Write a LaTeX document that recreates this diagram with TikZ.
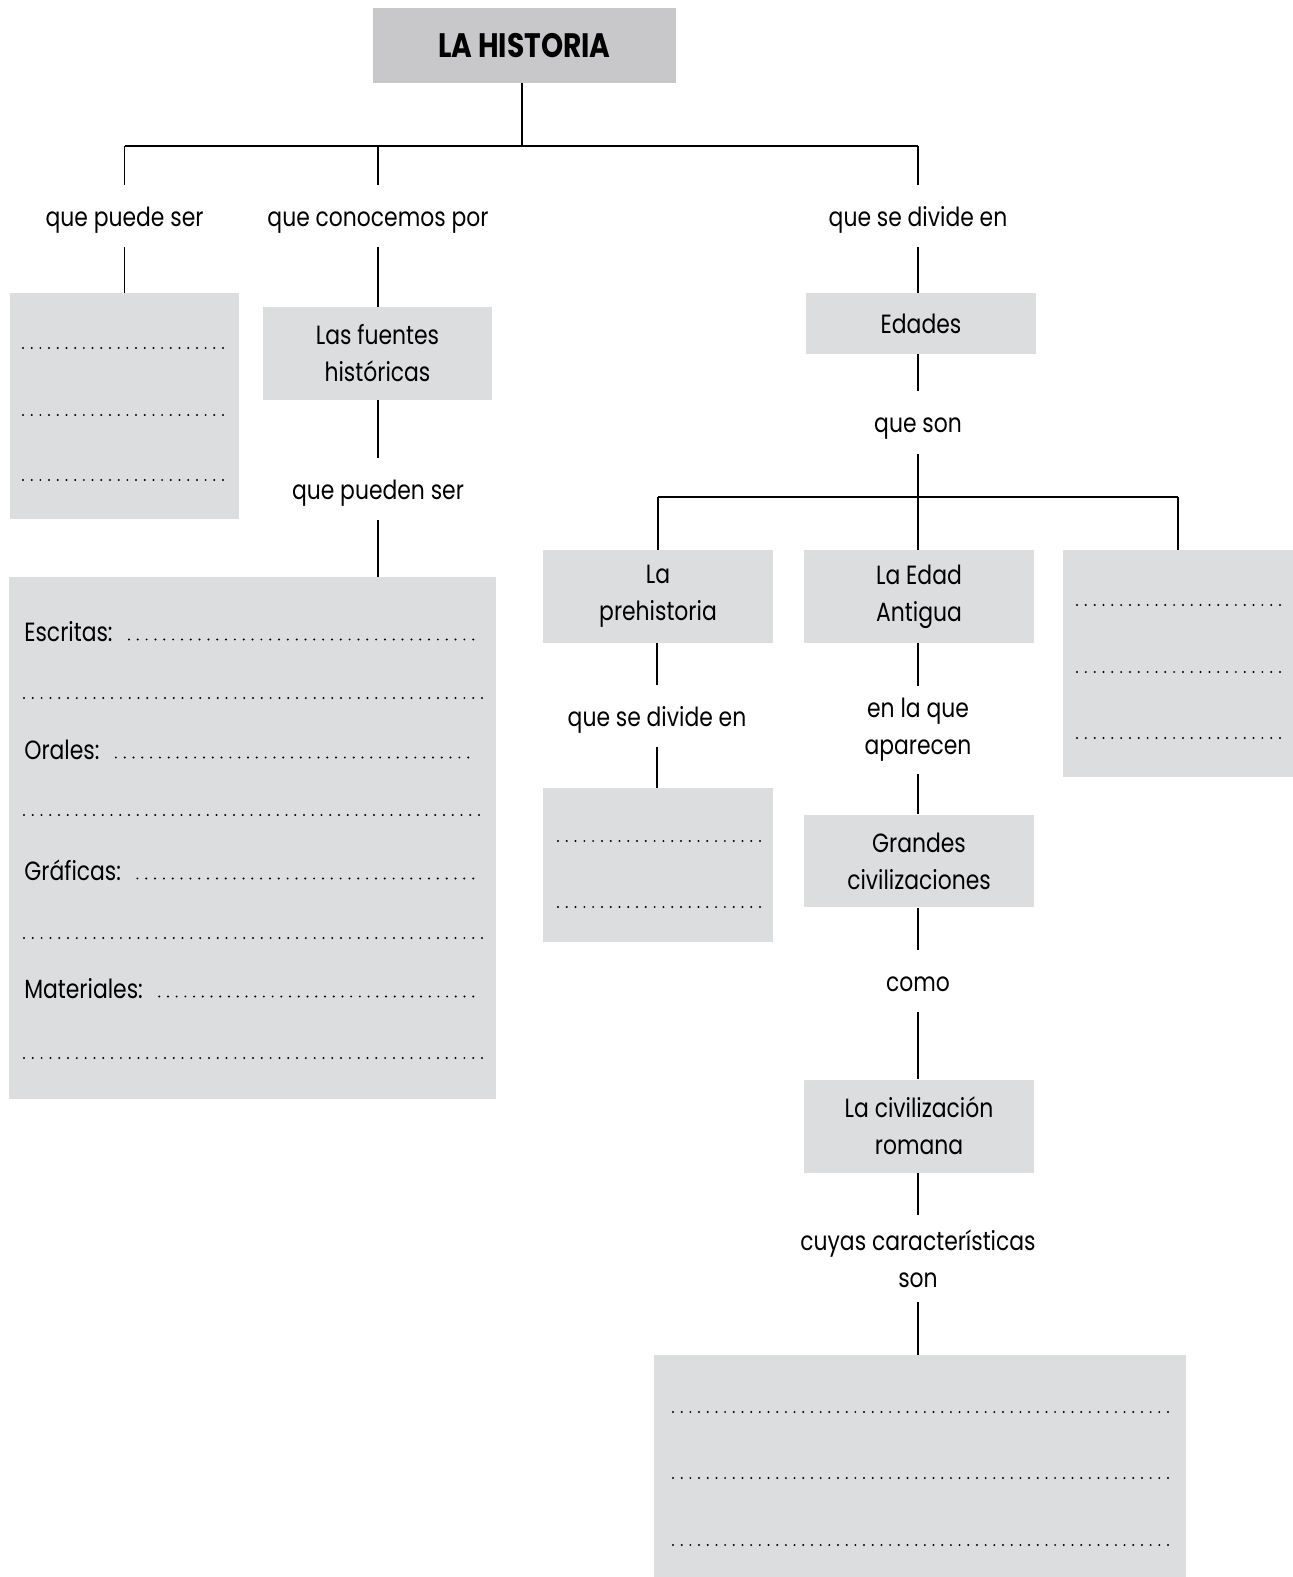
\documentclass[tikz,border=0pt]{standalone}
\usepackage{fontspec}
\setmainfont[FakeStretch=0.83]{Poppins}
\usetikzlibrary{positioning, decorations}
\definecolor{hgrey}{HTML}{C8C8CA}
\definecolor{hlight}{HTML}{DCDDDF}

\tikzset{
    box/.style={fill=hlight, inner sep=0pt, minimum width=4.6cm, minimum height=1.86cm, align=center},
    lbl/.style={inner sep=0pt, minimum height=1.24cm, text height=15.3pt, text depth=3.4pt},
    lbltwo/.style={inner sep=0pt, minimum height=1.76cm, align=center},
    link/.style={line width=0.75pt, black},
    dotline/.style={line width=1.25pt, line cap=round, dash pattern=on 0pt off 4.93pt, dash expand off},
}

\begin{document}
\begin{tikzpicture}[x=0.02cm, y=-0.02cm, every node/.style={font=\fontsize{15}{21}\selectfont}]
        \useasboundingbox (0,0) rectangle (1293,1577);

        % top
        \node[box, fill=hgrey, minimum width=6.06cm, minimum height=1.5cm, font=\fontsize{19.3}{21}\selectfont\bfseries] (historia) at (524.5,45.5) {LA HISTORIA};
        \coordinate (split) at (522,146);

        % first level
        \node[lbl] (puede) at (124.6,216) {que puede ser};
        \node[lbl] (conocemos) at (378,216) {que conocemos por};
        \node[lbl] (divide) at (918,216) {que se divide en};

        %% left branches
        \node[box, minimum width=4.58cm, minimum height=4.52cm] (tipos) at (124.5,406) {};
        \node[box, minimum width=4.58cm] (fuentes) at (377.5,353.5) {Las fuentes\\históricas};
        \node[lbl] (pueden) at (378,489) {que pueden ser};
        \node[box, minimum width=9.74cm, minimum height=10.44cm] (clases) at (252.5,838) {};

        %% right branch
        \node[box, minimum height=1.22cm] (edades) at (921,323.5) {Edades};
        \node[lbl] (son) at (918,422.5) {que son};
        \coordinate (split2) at (918,497);
        \node[box] (prehistoria) at (658,596.5) {La\\prehistoria};
        \node[box] (antigua) at (919,596.5) {La Edad\\Antigua};
        \node[box, minimum height=4.54cm] (otras) at (1178,663.5) {};
        \node[lbl] (divide2) at (657,716) {que se divide en};
        \node[box, minimum height=3.08cm] (etapas) at (658,865) {};
        \node[lbltwo] (aparecen) at (918,730) {en la que\\aparecen};
        \node[box] (grandes) at (919,861) {Grandes\\civilizaciones};
        \node[lbl] (como) at (918,981) {como};
        \node[box] (romana) at (919,1126) {La civilización\\romana};
        \node[lbltwo, minimum height=1.74cm] (caract) at (918,1258.5) {cuyas características\\son};
        \node[box, minimum width=10.64cm, minimum height=4.44cm] (rasgos) at (920,1466) {};

        % connectors
        \draw[link] (historia.south -| split) -- (split);
        \draw[link] (puede.north |- split) -- (divide.north |- split);
        \foreach \n in {puede, conocemos, divide}
        {
            \draw[link] (\n.north |- split) -- (\n.north);
        }
        \draw[link] (puede.south) -- (puede.south |- tipos.north);
        \draw[link] (conocemos.south) -- (conocemos.south |- fuentes.north);
        \draw[link] (divide.south) -- (divide.south |- edades.north);
        \draw[link] (fuentes.south -| pueden) -- (pueden.north);
        \draw[link] (pueden.south) -- (pueden.south |- clases.north);
        \draw[link] (edades.south -| son) -- (son.north);
        \draw[link] (son.south) -- (son.south |- antigua.north);
        \draw[link] (prehistoria.north |- split2) -- (otras.north |- split2);
        \draw[link] (prehistoria.north |- split2) -- (prehistoria.north);
        \draw[link] (otras.north |- split2) -- (otras.north);
        \draw[link] (prehistoria.south -| divide2) -- (divide2.north);
        \draw[link] (divide2.south) -- (divide2.south |- etapas.north);
        \draw[link] (antigua.south -| aparecen) -- (aparecen.north);
        \draw[link] (aparecen.south) -- (aparecen.south |- grandes.north);
        \draw[link] (grandes.south -| como) -- (como.north);
        \draw[link] (como.south) -- (como.south |- romana.north);
        \draw[link] (romana.south -| caract) -- (caract.north);
        \draw[link] (caract.south) -- (caract.south |- rasgos.north);

        % blank lines to fill in
        \foreach \y in {348,415,480}
            \draw[dotline] (23,\y) -- (223,\y);
        \foreach \y in {605,672,738}
            \draw[dotline] (1077,\y) -- (1280,\y);
        \foreach \y in {841,907}
            \draw[dotline] (558,\y) -- (760,\y);
        \foreach \y in {1412,1478,1545}
            \draw[dotline] (673,\y) -- (1168,\y);

        %% kinds of sources
        \foreach \nm/\txt/\y/\e in {escritas/Escritas:/641/482, orales/Orales:/759/477, graficas/Gráficas:/880/482, materiales/Materiales:/998/482}
        {
            \node[anchor=base west, inner sep=0pt] (\nm) at (24,\y) {\txt};
            \draw[dotline] ([xshift=0.32cm, yshift=0.03cm]\nm.base east) -- (\e,\y-1.5);
        }
        \foreach \y/\e in {698/482, 815/479, 938/482, 1058/482}
            \draw[dotline] (24,\y) -- (\e,\y);
\end{tikzpicture}
\end{document}
